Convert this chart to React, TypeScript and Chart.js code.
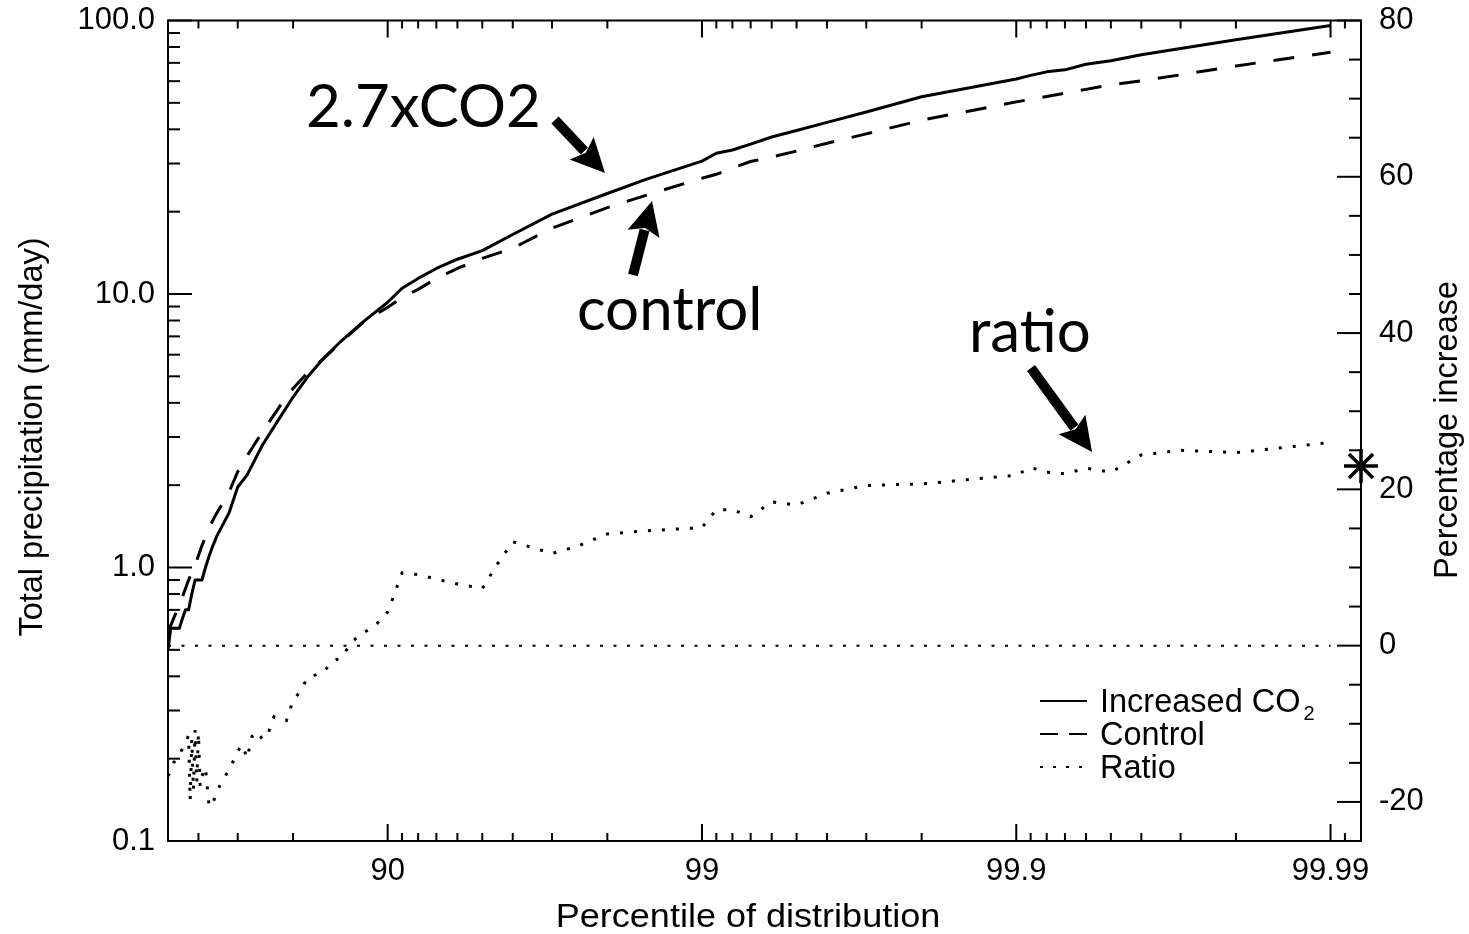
import React, { useEffect, useRef } from 'react';
import { Chart, registerables } from 'chart.js';

Chart.register(...registerables);

// ---------------- data (percentile of distribution -> value) ----------------
const increasedPct = [50, 51, 54, 55, 56, 57, 58, 59, 60, 61, 62, 63, 64, 65, 68, 70, 72, 75, 78, 80, 82, 84, 86, 88, 90, 91, 92, 93, 94, 95, 96, 97, 98, 98.5, 99, 99.1, 99.2, 99.3, 99.4, 99.5, 99.6, 99.7, 99.8, 99.9, 99.91, 99.92, 99.93, 99.94, 99.95, 99.96, 99.97, 99.98, 99.99];
const increasedMm = [0.50, 0.60, 0.60, 0.65, 0.70, 0.70, 0.80, 0.90, 0.90, 0.90, 1.0, 1.1, 1.2, 1.3, 1.58, 1.97, 2.18, 2.81, 3.54, 4.20, 4.97, 5.82, 6.76, 7.89, 9.33, 10.5, 11.4, 12.4, 13.4, 14.4, 16.5, 19.6, 23.3, 26.3, 30.6, 32.7, 33.6, 35.3, 37.5, 39.6, 42.4, 46.3, 52.6, 61.1, 63.0, 64.9, 66.0, 69.2, 71.3, 74.9, 79.0, 85.0, 95.9];

const controlPct = [50, 52, 55, 57, 59, 61, 63, 65, 68, 70, 72, 75, 78, 80, 82, 84, 86, 88, 90, 91, 92, 93, 94, 95, 96, 97, 98, 98.5, 99, 99.1, 99.2, 99.3, 99.4, 99.5, 99.6, 99.7, 99.8, 99.9, 99.91, 99.92, 99.93, 99.94, 99.95, 99.96, 99.97, 99.98, 99.99];
const controlMm = [0.58, 0.65, 0.78, 0.90, 1.02, 1.20, 1.40, 1.58, 1.88, 2.24, 2.56, 3.14, 3.90, 4.51, 5.15, 5.80, 6.70, 7.85, 8.95, 9.7, 10.4, 11.4, 12.4, 13.5, 14.7, 17.4, 20.7, 23.0, 26.5, 27.4, 28.9, 30.5, 31.7, 33.3, 35.6, 38.5, 43.2, 50.4, 51.5, 52.7, 54.2, 56.0, 58.2, 60.2, 63.3, 68.2, 76.5];

const ratioPct = [50, 51, 52, 54, 55, 56, 57, 57.5, 58, 58.5, 59, 59.5, 60, 60.5, 61, 62, 63, 64, 65, 66, 67, 68, 69, 70, 71, 72, 73, 74, 75, 76, 77, 78, 79, 80, 81, 82, 84, 85, 86, 87, 88, 89, 90, 91, 92, 93, 94, 95, 95.5, 96, 96.5, 97, 97.5, 98, 98.5, 99, 99.1, 99.2, 99.3, 99.4, 99.5, 99.6, 99.7, 99.8, 99.9, 99.91, 99.92, 99.93, 99.94, 99.95, 99.96, 99.97, 99.98, 99.99];
const ratioIncrease = [-16.7, -16.0, -15.0, -14.0, -13.2, -12.4, -11.5, -19.8, -12.0, -18.5, -10.8, -17.5, -11.2, -18.0, -16.7, -15.6, -20.6, -20.2, -18.7, -17.7, -16.8, -15.9, -14.8, -13.5, -12.7, -14.4, -11.6, -11.0, -12.0, -11.2, -9.1, -9.5, -9.6, -7.0, -5.9, -4.1, -3.4, -2.0, -1.5, 0.5, 1.6, 2.5, 4.3, 9.3, 9.1, 8.5, 7.9, 7.3, 10.3, 13.3, 12.6, 11.8, 12.7, 14.3, 14.7, 15.1, 17.4, 17.4, 16.5, 18.4, 18.0, 19.5, 20.5, 20.7, 21.8, 22.8, 22.2, 22.0, 22.7, 22.2, 24.4, 25.0, 24.7, 26.0];

const zeroPct = [50, 99.99];
const zeroVal = [0, 0];

const markerPct = [99.992];
const markerVal = [23];

// ---------------- axes ----------------
const X_LEFT_PCT = 50;
const X_RIGHT_PCT = 99.992;
const xMajorPct = [90, 99, 99.9, 99.99];
const xMajorLabels = ['90', '99', '99.9', '99.99'];
const xMinorPct = [60, 70, 80, 91, 92, 93, 94, 95, 96, 97, 98, 99.1, 99.2, 99.3, 99.4, 99.5, 99.6, 99.7, 99.8, 99.91, 99.92, 99.93, 99.94, 99.95, 99.96, 99.97, 99.98, 99.991];

const leftMin = 0.1;
const leftMax = 100;
const leftMajor = [0.1, 1, 10, 100];
const leftMajorLabels = ['0.1', '1.0', '10.0', '100.0'];
const leftMinor = [0.2, 0.3, 0.4, 0.5, 0.6, 0.7, 0.8, 0.9, 2, 3, 4, 5, 6, 7, 8, 9, 20, 30, 40, 50, 60, 70, 80, 90];

const rightMin = -25;
const rightMax = 80;
const rightMajor = [-20, 0, 20, 40, 60, 80];
const rightMinor = [-15, -10, -5, 5, 10, 15, 25, 30, 35, 45, 50, 55, 65, 70, 75];

const legendItems = ['Increased CO', 'Control', 'Ratio'];

// ---------------- helpers ----------------
const toU = (p: number) => -Math.log10(100 - p);
const pts = (xs: number[], ys: number[]) => xs.map((p, i) => ({ x: toU(p), y: ys[i] }));

const FONT = '"Liberation Sans", Arial, Helvetica, sans-serif';
const ANNOT_FONT = 'Lato, "Open Sans", sans-serif';
const INK = '#000';

const W = 1469;
const H = 934;

function line(ctx: CanvasRenderingContext2D, x0: number, y0: number, x1: number, y1: number) {
  ctx.beginPath();
  ctx.moveTo(x0, y0);
  ctx.lineTo(x1, y1);
  ctx.stroke();
}

function arrow(ctx: CanvasRenderingContext2D, x0: number, y0: number, x1: number, y1: number) {
  const dx = x1 - x0;
  const dy = y1 - y0;
  const L = Math.hypot(dx, dy);
  const ux = dx / L;
  const uy = dy / L;
  const headLen = 34;
  const halfW = 16.5;
  const bx = x1 - ux * headLen;
  const by = y1 - uy * headLen;
  ctx.lineWidth = 10;
  ctx.lineCap = 'butt';
  line(ctx, x0, y0, bx + ux * 4, by + uy * 4);
  ctx.beginPath();
  ctx.moveTo(x1, y1);
  ctx.lineTo(bx - uy * halfW, by + ux * halfW);
  ctx.lineTo(bx + ux * 6, by + uy * 6);
  ctx.lineTo(bx + uy * halfW, by - ux * halfW);
  ctx.closePath();
  ctx.fill();
}

const decorPlugin = {
  id: 'decor',
  beforeDatasetsDraw(chart: any) {
    const { ctx, chartArea: a, scales } = chart;
    const xs = scales.x;
    const yl = scales.y;
    const yr = scales.y1;
    ctx.save();
    ctx.strokeStyle = INK;
    ctx.lineWidth = 2;
    ctx.lineCap = 'butt';
    ctx.strokeRect(a.left, a.top, a.right - a.left, a.bottom - a.top);

    const xTick = (p: number, len: number) => {
      const x = xs.getPixelForValue(toU(p));
      line(ctx, x, a.bottom, x, a.bottom - len);
      line(ctx, x, a.top, x, a.top + len);
    };
    xMajorPct.forEach((p) => xTick(p, 17));
    xMinorPct.forEach((p) => xTick(p, 8));

    const lTick = (v: number, len: number) => {
      const y = yl.getPixelForValue(v);
      line(ctx, a.left, y, a.left + len, y);
    };
    leftMajor.forEach((v) => lTick(v, 24));
    leftMinor.forEach((v) => lTick(v, 12));

    const rTick = (v: number, len: number) => {
      const y = yr.getPixelForValue(v);
      line(ctx, a.right, y, a.right - len, y);
    };
    rightMajor.forEach((v) => rTick(v, 24));
    rightMinor.forEach((v) => rTick(v, 12));
    ctx.restore();
  },
  afterDraw(chart: any) {
    const { ctx } = chart;
    ctx.save();
    ctx.fillStyle = INK;
    ctx.strokeStyle = INK;

    // axis titles
    ctx.font = `34px ${FONT}`;
    ctx.textAlign = 'center';
    ctx.textBaseline = 'alphabetic';
    ctx.save();
    ctx.translate(748, 927);
    ctx.scale(1.06, 1);
    ctx.fillText('Percentile of distribution', 0, 0);
    ctx.restore();

    ctx.font = `32.5px ${FONT}`;
    ctx.save();
    ctx.translate(41.5, 437);
    ctx.rotate(-Math.PI / 2);
    ctx.fillText('Total precipitation (mm/day)', 0, 0);
    ctx.restore();

    ctx.save();
    ctx.translate(1457, 430);
    ctx.rotate(-Math.PI / 2);
    ctx.fillText('Percentage increase', 0, 0);
    ctx.restore();

    // legend
    const lx0 = 1040;
    const lx1 = 1087;
    const tx = 1100;
    const baselines = [712, 745, 778];
    const dashes = [[], [18, 11], [3, 10]];
    ctx.lineWidth = 2;
    baselines.forEach((b, i) => {
      ctx.setLineDash(dashes[i]);
      line(ctx, lx0, b - 11, lx1, b - 11);
    });
    ctx.setLineDash([]);
    ctx.textAlign = 'left';
    ctx.font = `32.5px ${FONT}`;
    legendItems.forEach((t, i) => ctx.fillText(t, tx, baselines[i]));
    const w0 = ctx.measureText(legendItems[0]).width;
    ctx.font = `20px ${FONT}`;
    ctx.fillText('2', tx + w0 + 3, baselines[0] + 8);

    // annotations
    ctx.font = `60px ${ANNOT_FONT}`;
    ctx.fillText('2.7xCO2', 306, 127);
    ctx.fillText('control', 577, 330);
    ctx.fillText('ratio', 969, 352);
    arrow(ctx, 555, 120, 605, 173);
    arrow(ctx, 633, 275, 652, 201);
    arrow(ctx, 1031, 368, 1092, 452);
    ctx.restore();
  },
};

const noPad = (s: any) => {
  s.paddingTop = 0;
  s.paddingBottom = 0;
  s.paddingLeft = 0;
  s.paddingRight = 0;
};

export default function App() {
  const ref = useRef<HTMLCanvasElement>(null);
  useEffect(() => {
    const canvas = ref.current;
    if (!canvas) return;
    const chart = new Chart(canvas, {
      type: 'line',
      data: {
        datasets: [
          {
            label: 'Increased CO2',
            data: pts(increasedPct, increasedMm),
            yAxisID: 'y',
            borderColor: INK,
            borderWidth: 3,
            pointRadius: 0,
            tension: 0,
            borderJoinStyle: 'round',
          },
          {
            label: 'Control',
            data: pts(controlPct, controlMm),
            yAxisID: 'y',
            borderColor: INK,
            borderWidth: 3,
            borderDash: [21, 18],
            pointRadius: 0,
            tension: 0,
          },
          {
            label: 'Ratio',
            data: pts(ratioPct, ratioIncrease),
            yAxisID: 'y1',
            borderColor: INK,
            borderWidth: 3,
            borderDash: [3, 11],
            pointRadius: 0,
            tension: 0,
          },
          {
            label: 'zero',
            data: pts(zeroPct, zeroVal),
            yAxisID: 'y1',
            borderColor: INK,
            borderWidth: 2,
            borderDash: [3, 10.5],
            pointRadius: 0,
            tension: 0,
          },
          {
            label: 'marker',
            data: pts(markerPct, markerVal),
            yAxisID: 'y1',
            showLine: false,
            pointStyle: 'star',
            pointRadius: 17,
            borderColor: INK,
            backgroundColor: INK,
            pointBorderWidth: 3.5,
            borderWidth: 3.5,
            clip: false,
          } as any,
        ],
      },
      options: {
        animation: false,
        responsive: false,
        devicePixelRatio: 1,
        events: [],
        layout: { padding: { top: 13, left: 0, right: 0, bottom: 0 } },
        plugins: {
          legend: { display: false },
          tooltip: { enabled: false },
          title: { display: false },
        },
        scales: {
          x: {
            type: 'linear',
            min: toU(X_LEFT_PCT),
            max: toU(X_RIGHT_PCT),
            grid: { display: false, drawTicks: false },
            border: { display: false },
            afterBuildTicks: (s: any) => {
              s.ticks = xMajorPct.map((p) => ({ value: toU(p) }));
            },
            afterFit: (s: any) => {
              s.height = H - 841;
              noPad(s);
            },
            ticks: {
              autoSkip: false,
              maxRotation: 0,
              minRotation: 0,
              padding: 12,
              color: INK,
              font: { family: FONT, size: 31 },
              callback: (_v: any, i: number) => xMajorLabels[i],
            },
          },
          y: {
            type: 'logarithmic',
            position: 'left',
            min: leftMin,
            max: leftMax,
            grid: { display: false, drawTicks: false },
            border: { display: false },
            afterBuildTicks: (s: any) => {
              s.ticks = leftMajor.map((v) => ({ value: v }));
            },
            afterFit: (s: any) => {
              s.width = 168;
              noPad(s);
            },
            ticks: {
              autoSkip: false,
              padding: 13,
              color: INK,
              font: { family: FONT, size: 31 },
              callback: (_v: any, i: number) => leftMajorLabels[i],
            },
          },
          y1: {
            type: 'linear',
            position: 'right',
            min: rightMin,
            max: rightMax,
            grid: { display: false, drawTicks: false },
            border: { display: false },
            afterBuildTicks: (s: any) => {
              s.ticks = rightMajor.map((v) => ({ value: v }));
            },
            afterFit: (s: any) => {
              s.width = W - 1361;
              noPad(s);
            },
            ticks: {
              autoSkip: false,
              padding: 18,
              color: INK,
              font: { family: FONT, size: 31 },
              callback: (v: any) => String(v),
            },
          },
        },
      } as any,
      plugins: [decorPlugin],
    });
    return () => chart.destroy();
  }, []);

  return (
    <div style={{ position: 'fixed', left: 0, top: 0, width: W, height: H, background: '#fff' }}>
      <canvas ref={ref} width={W} height={H} style={{ display: 'block', width: W, height: H }} />
    </div>
  );
}
